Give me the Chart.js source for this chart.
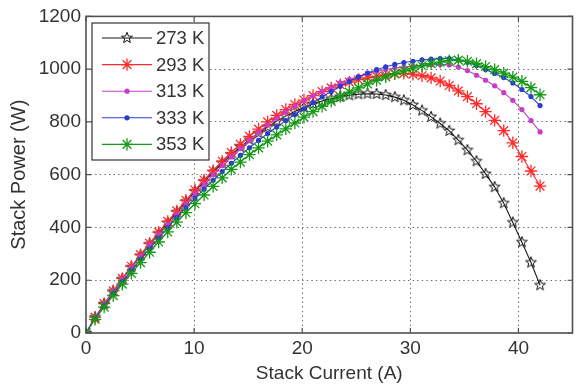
<!DOCTYPE html>
<html>
<head>
<meta charset="utf-8">
<script src="https://cdn.jsdelivr.net/npm/chart.js@4.4.0/dist/chart.umd.min.js"></script>
<style>
html, body { margin: 0; padding: 0; background: #fff; overflow: hidden; }
#wrap { width: 580px; height: 388px; }
</style>
</head>
<body>
<div id="wrap"><canvas id="powerChart"></canvas></div>
<script>
// stack current (A), one marker every 0.84 A
const current = [0, 0.84, 1.68, 2.52, 3.36, 4.2, 5.04, 5.88, 6.72, 7.56, 8.4, 9.24, 10.08, 10.92, 11.76, 12.6,
  13.44, 14.28, 15.12, 15.96, 16.8, 17.64, 18.48, 19.32, 20.16, 21, 21.84, 22.68, 23.52, 24.36, 25.2, 26.04,
  26.88, 27.72, 28.56, 29.4, 30.24, 31.08, 31.92, 32.76, 33.6, 34.44, 35.28, 36.12, 36.96, 37.8, 38.64, 39.48,
  40.32, 41.16, 42];

// stack power (W) per temperature
const p273 = [0, 59, 110, 158, 204, 249, 293, 336, 377, 417, 458, 498, 537, 574, 610, 644, 676, 705, 733, 758,
  781, 803, 822, 840, 855, 868, 879, 888, 895, 901, 905, 907, 906, 902, 894, 882, 864, 843, 819, 794, 766, 731,
  693, 651, 603, 553, 492, 419, 344, 267, 181];
const p293 = [0, 60, 111, 160, 207, 253, 297, 340, 382, 423, 463, 503, 542, 580, 616, 651, 684, 715, 745, 773,
  800, 825, 847, 866, 883, 900, 915, 929, 941, 951, 960, 967, 973, 978, 982, 984, 981, 975, 967, 955, 938, 918,
  896, 869, 839, 806, 767, 721, 669, 614, 557];
const p313 = [0, 58, 108, 156, 202, 247, 290, 332, 372, 411, 450, 489, 527, 564, 600, 634, 667, 699, 730, 760,
  788, 814, 838, 860, 880, 899, 916, 933, 948, 961, 973, 983, 992, 999, 1004, 1008, 1011, 1015, 1017, 1018,
  1016, 1008, 995, 977, 958, 937, 911, 882, 847, 805, 762];
const p333 = [0, 55, 103, 149, 194, 237, 279, 320, 360, 399, 437, 474, 510, 545, 579, 612, 643, 673, 702, 730,
  756, 781, 805, 828, 850, 873, 895, 915, 935, 953, 970, 985, 998, 1009, 1018, 1025, 1030, 1035, 1038, 1040,
  1040, 1035, 1026, 1014, 999, 984, 968, 948, 923, 896, 862];
const p353 = [0, 52, 98, 142, 185, 226, 267, 306, 345, 383, 420, 456, 490, 523, 556, 588, 620, 648, 676, 702,
  727, 751, 774, 796, 818, 839, 859, 878, 896, 913, 929, 944, 958, 971, 983, 994, 1004, 1013, 1021, 1027,
  1032, 1034, 1030, 1021, 1010, 998, 985, 970, 954, 930, 903];

const labels = ['273 K', '293 K', '313 K', '333 K', '353 K'];
const xTicks = [0, 10, 20, 30, 40];
const yTicks = [0, 200, 400, 600, 800, 1000, 1200];

const FONT = '"Liberation Sans", Arial, sans-serif';
const TEXT = '#333';

// outlined pentagram marker like matlab 'p'
function pentagram(r) {
  const c = document.createElement('canvas');
  const s = Math.ceil(r * 2 + 4);
  c.width = s; c.height = s;
  const g = c.getContext('2d');
  g.strokeStyle = '#111';
  g.lineWidth = 1;
  g.beginPath();
  for (let i = 0; i < 10; i++) {
    const rad = i % 2 === 0 ? r : r * 0.42;
    const a = -Math.PI / 2 + i * Math.PI / 5;
    const px = s / 2 + rad * Math.cos(a), py = s / 2 + rad * Math.sin(a);
    i === 0 ? g.moveTo(px, py) : g.lineTo(px, py);
  }
  g.closePath();
  g.stroke();
  return c;
}
const star5 = pentagram(5.7);

const toPts = arr => arr.map((p, i) => ({ x: current[i], y: p }));

const series = [
  { data: p273, color: '#1a1a1a', style: star5, radius: 5, width: 1, order: 4 },
  { data: p293, color: '#ff2a2a', style: 'star', radius: 6.2, width: 1.3, order: 3 },
  { data: p313, color: '#c83cc8', style: 'circle', radius: 2.6, width: 0, order: 2 },
  { data: p333, color: '#2a3ccc', style: 'circle', radius: 2.6, width: 0, order: 1 },
  { data: p353, color: '#159a15', style: 'star', radius: 6.2, width: 1.3, order: 0 },
];

const datasets = series.map((s, i) => ({
  label: labels[i],
  data: toPts(s.data),
  borderColor: s.color,
  backgroundColor: s.color,
  borderWidth: 1.1,
  pointStyle: s.style,
  pointRadius: s.radius,
  pointBorderWidth: s.width,
  pointBorderColor: s.color,
  pointBackgroundColor: s.color,
  order: s.order,
  tension: 0,
}));

// frame with inward ticks, matlab style
const boxPlugin = {
  id: 'box',
  afterDraw(chart) {
    const { ctx, chartArea: a, scales: { x, y } } = chart;
    ctx.save();
    ctx.strokeStyle = '#505050';
    ctx.lineWidth = 1.6;
    ctx.strokeRect(a.left, a.top, a.right - a.left, a.bottom - a.top);
    ctx.lineWidth = 1.2;
    ctx.beginPath();
    xTicks.forEach(v => {
      const px = x.getPixelForValue(v);
      ctx.moveTo(px, a.bottom); ctx.lineTo(px, a.bottom - 5);
      ctx.moveTo(px, a.top); ctx.lineTo(px, a.top + 5);
    });
    yTicks.forEach(v => {
      const py = y.getPixelForValue(v);
      ctx.moveTo(a.left, py); ctx.lineTo(a.left + 5, py);
      ctx.moveTo(a.right, py); ctx.lineTo(a.right - 5, py);
    });
    ctx.stroke();
    ctx.restore();
  }
};

// legend box in the upper left of the plot
const legendPlugin = {
  id: 'innerLegend',
  afterDraw(chart) {
    const { ctx } = chart;
    const left = 92, top = 23, w = 117, h = 137;
    ctx.save();
    ctx.fillStyle = '#fff';
    ctx.fillRect(left, top, w, h);
    ctx.strokeStyle = '#333';
    ctx.lineWidth = 1.2;
    ctx.strokeRect(left, top, w, h);
    chart.data.datasets.forEach((ds, i) => {
      const yy = top + 15 + i * 26.6;
      ctx.strokeStyle = ds.borderColor;
      ctx.lineWidth = 1.1;
      ctx.beginPath();
      ctx.moveTo(left + 10, yy); ctx.lineTo(left + 60, yy);
      ctx.stroke();
      ctx.fillStyle = ds.pointBackgroundColor;
      ctx.strokeStyle = ds.pointBorderColor;
      ctx.lineWidth = ds.pointBorderWidth || 1;
      Chart.helpers.drawPoint(ctx, {
        pointStyle: ds.pointStyle, radius: ds.pointRadius, rotation: 0,
        borderWidth: ds.pointBorderWidth
      }, left + 35, yy);
      ctx.fillStyle = TEXT;
      ctx.font = '18.5px ' + FONT;
      ctx.textBaseline = 'middle';
      ctx.fillText(ds.label, left + 64, yy + 1);
    });
    ctx.restore();
  }
};

const gridColor = edge => c => (c.tick && edge.includes(c.tick.value)) ? 'rgba(0,0,0,0)' : '#6a6a6a';

new Chart(document.getElementById('powerChart'), {
  type: 'line',
  data: { datasets },
  plugins: [boxPlugin, legendPlugin],
  options: {
    responsive: true,
    maintainAspectRatio: false,
    animation: false,
    layout: { padding: { left: 0, top: 15, right: 2, bottom: 0 } },
    plugins: { legend: { display: false }, tooltip: { enabled: false } },
    scales: {
      x: {
        type: 'linear',
        min: 0, max: 45,
        afterFit: s => { s.height = 55; },
        afterBuildTicks: s => { s.ticks = xTicks.map(v => ({ value: v })); },
        ticks: { color: TEXT, font: { family: FONT, size: 19 }, padding: 4, maxRotation: 0,
          callback: v => String(v) },
        grid: { color: gridColor([0]), lineWidth: 1, drawTicks: false },
        border: { display: false, dash: [1.4, 3.2] },
        title: { display: true, text: 'Stack Current (A)', color: TEXT,
          font: { family: FONT, size: 19 }, padding: { top: 0, bottom: 3 } }
      },
      y: {
        min: 0, max: 1200,
        afterFit: s => { s.width = 86; },
        afterBuildTicks: s => { s.ticks = yTicks.map(v => ({ value: v })); },
        ticks: { color: TEXT, font: { family: FONT, size: 19 }, padding: 5,
          callback: v => String(v) },
        grid: { color: gridColor([0, 1200]), lineWidth: 1, drawTicks: false },
        border: { display: false, dash: [1.4, 3.2] },
        title: { display: true, text: 'Stack Power (W)', color: TEXT,
          font: { family: FONT, size: 20 }, padding: { top: 7, bottom: 0 } }
      }
    }
  }
});
</script>
</body>
</html>
